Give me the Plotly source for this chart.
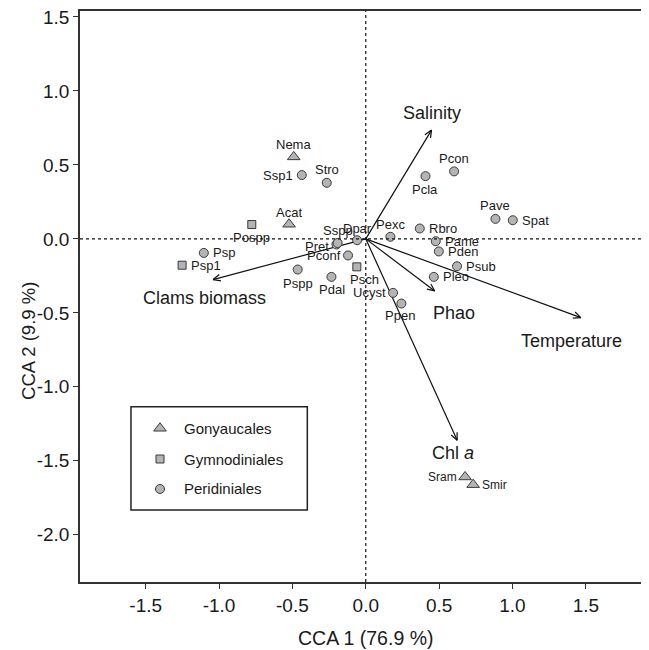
import math
import plotly.graph_objects as go

# ---------------- data ----------------
GONY_NAMES = ["Nema", "Acat", "Sram", "Smir"]
GONY_X = [-0.491, -0.523, 0.677, 0.732]
GONY_Y = [0.554, 0.099, -1.609, -1.661]

GYMN_NAMES = ["Pospp", "Psp1", "Psch"]
GYMN_X = [-0.777, -1.252, -0.061]
GYMN_Y = [0.097, -0.178, -0.189]

PERI_NAMES = ["Ssp1", "Stro", "Psp", "Pspp", "Pdal", "Pconf", "Pret", "Sspp", "Dpar",
              "Ucyst", "Ppen", "Pexc", "Rbro", "Pame", "Pden", "Psub", "Pleo",
              "Pcla", "Pcon", "Pave", "Spat"]
PERI_X = [-0.436, -0.266, -1.104, -0.464, -0.234, -0.121, -0.200, -0.192, -0.059,
          0.186, 0.243, 0.168, 0.368, 0.477, 0.498, 0.622, 0.464,
          0.407, 0.602, 0.884, 1.002]
PERI_Y = [0.431, 0.379, -0.095, -0.207, -0.257, -0.112, -0.038, -0.028, -0.009,
          -0.365, -0.437, 0.014, 0.070, -0.016, -0.085, -0.185, -0.257,
          0.424, 0.456, 0.135, 0.126]

ENV_NAMES = ["Salinity", "Temperature", "Phao", "Chl <i>a</i>", "Clams biomass"]
ENV_X = [0.448, 1.466, 0.470, 0.623, -1.041]
ENV_Y = [0.735, -0.532, -0.352, -1.361, -0.275]

X_TICKS = [-1.5, -1.0, -0.5, 0.0, 0.5, 1.0, 1.5]
X_TICK_LABELS = ["-1.5", "-1.0", "-0.5", "0.0", "0.5", "1.0", "1.5"]
Y_TICKS = [-2.0, -1.5, -1.0, -0.5, 0.0, 0.5, 1.0, 1.5]
Y_TICK_LABELS = ["-2.0", "-1.5", "-1.0", "-0.5", "0.0", "0.5", "1.0", "1.5"]

LEGEND_NAMES = ["Gonyaucales", "Gymnodiniales", "Peridiniales"]

# ---------------- styles ----------------
# page body has an 8px margin, so the figure is 8px smaller each way
W, H = 641, 642
ML, MR, MT, MB = 72, 2, 3, 68
XR = [-1.948, 1.917]
YR = [-2.319, 1.540]
FONT = "Liberation Sans, Arial, sans-serif"
TXT = "#1a1a1a"
FILL = "#b4b4b4"
EDGE = "#3a3a3a"

# label placement: (xanchor, xshift, yshift)
LBL = {
    "Nema": ("center", 0, 12), "Ssp1": ("right", -7, 0), "Stro": ("center", 0, 13),
    "Acat": ("center", 0, 12), "Pospp": ("center", 0, -13), "Psp": ("left", 7, 0),
    "Psp1": ("left", 7, 0), "Pspp": ("center", 0, -14), "Pdal": ("center", 1, -13),
    "Psch": ("center", 8, -13), "Pconf": ("right", -5, 0), "Pret": ("right", -5, -2),
    "Sspp": ("center", 0, 13), "Dpar": ("center", 0, 12), "Ucyst": ("right", -5, 0),
    "Ppen": ("center", -1, -12), "Pexc": ("center", 0, 12), "Rbro": ("left", 7, 0),
    "Pame": ("left", 7, 0), "Pden": ("left", 7, 0), "Psub": ("left", 7, 0),
    "Pleo": ("left", 7, 0), "Pcla": ("center", 0, -13), "Pcon": ("center", 0, 13),
    "Pave": ("center", 0, 13), "Spat": ("left", 7, 0), "Sram": ("right", -6, 0),
    "Smir": ("left", 7, 0),
}
ENV_LBL = [(0, 17), (-9, -23), (19, -22), (-4, -13), (-9, -18)]

fig = go.Figure()

# arrows (lines + open V heads computed in pixel space)
sx = (W - ML - MR) / (XR[1] - XR[0])
sy = (H - MT - MB) / (YR[1] - YR[0])
ax_, ay_ = [], []
L, ang = 8.0, math.radians(24)
for tx, ty in zip(ENV_X, ENV_Y):
    ax_ += [0, tx, None]
    ay_ += [0, ty, None]
    dx, dy = tx * sx, ty * sy
    n = math.hypot(dx, dy)
    ux, uy = dx / n, dy / n
    for s in (1, -1):
        c, si = math.cos(s * ang), math.sin(s * ang)
        rx, ry = ux * c - uy * si, ux * si + uy * c
        ax_ += [tx - L * rx / sx, tx, None]
        ay_ += [ty - L * ry / sy, ty, None]
fig.add_trace(go.Scatter(x=ax_, y=ay_, mode="lines", line=dict(color="#111", width=1.2),
                         hoverinfo="skip", showlegend=False))

def add_group(xs, ys, symbol, size):
    fig.add_trace(go.Scatter(x=xs, y=ys, mode="markers",
                             marker=dict(symbol=symbol, size=size, color=FILL,
                                         line=dict(color=EDGE, width=1)),
                             showlegend=False))

add_group(GONY_X, GONY_Y, "triangle-up", 11)
add_group(GYMN_X, GYMN_Y, "square", 8)
add_group(PERI_X, PERI_Y, "circle", 9)

annotations = []
for names, xs, ys in ((GONY_NAMES, GONY_X, GONY_Y), (GYMN_NAMES, GYMN_X, GYMN_Y),
                      (PERI_NAMES, PERI_X, PERI_Y)):
    for nm, x, y in zip(names, xs, ys):
        xa, xsft, ysft = LBL[nm]
        size = 12 if nm in ("Sram", "Smir") else 13
        annotations.append(dict(x=x, y=y, xref="x", yref="y", text=nm, showarrow=False,
                                xanchor=xa, yanchor="middle", xshift=xsft, yshift=ysft,
                                font=dict(family=FONT, size=size, color=TXT)))
for nm, x, y, (xsft, ysft) in zip(ENV_NAMES, ENV_X, ENV_Y, ENV_LBL):
    annotations.append(dict(x=x, y=y, xref="x", yref="y", text=nm, showarrow=False,
                            xanchor="center", yanchor="middle", xshift=xsft, yshift=ysft,
                            font=dict(family=FONT, size=18, color=TXT)))

# axis titles
annotations.append(dict(x=0, y=-0.098, xref="x", yref="paper", text="CCA 1 (76.9 %)",
                        showarrow=False, xanchor="center", yanchor="middle",
                        font=dict(family=FONT, size=19.5, color=TXT)))
annotations.append(dict(x=-0.09, y=-0.69, xref="paper", yref="y", text="CCA 2 (9.9 %)",
                        showarrow=False, xanchor="center", yanchor="middle", textangle=-90,
                        font=dict(family=FONT, size=18.5, color=TXT)))

# legend (manual)
LEG_MX, LEG_TX = 0.1411, 0.1794
LEG_YS = [0.2692, 0.2154, 0.1629]
for sym, size, yy in zip(["triangle-up", "square", "circle"], [11, 8, 9], LEG_YS):
    fig.add_trace(go.Scatter(x=[LEG_MX], y=[yy], xaxis="x2", yaxis="y2", mode="markers",
                             marker=dict(symbol=sym, size=size, color=FILL,
                                         line=dict(color=EDGE, width=1)),
                             showlegend=False, hoverinfo="skip"))
for nm, yy in zip(LEGEND_NAMES, LEG_YS):
    annotations.append(dict(x=LEG_TX, y=yy, xref="paper", yref="paper", text=nm,
                            showarrow=False, xanchor="left", yanchor="middle",
                            font=dict(family=FONT, size=15, color=TXT)))

shapes = [
    dict(type="line", x0=0, x1=0, y0=0, y1=1, xref="x", yref="paper",
         line=dict(color="#111", width=1.2, dash="dot")),
    dict(type="line", x0=0, x1=1, y0=0, y1=0, xref="paper", yref="y",
         line=dict(color="#111", width=1.2, dash="dot")),
    dict(type="rect", x0=0.0899, x1=0.4009, y0=0.1261, y1=0.3070, xref="paper", yref="paper",
         line=dict(color="#222", width=1.5), fillcolor="rgba(0,0,0,0)"),
]

axis_common = dict(showgrid=False, zeroline=False, showline=True, linecolor="#333",
                   linewidth=1.5, mirror=True, ticks="outside", ticklen=5, tickwidth=1.2,
                   tickcolor="#333", ticklabeloverflow="allow",
                   tickfont=dict(family=FONT, size=19, color=TXT))

fig.update_layout(
    width=W, height=H, margin=dict(l=ML, r=MR, t=MT, b=MB, autoexpand=False),
    plot_bgcolor="white", paper_bgcolor="white", showlegend=False,
    xaxis=dict(range=XR, tickvals=X_TICKS, ticktext=X_TICK_LABELS, **axis_common),
    yaxis=dict(range=YR, tickvals=Y_TICKS, ticktext=Y_TICK_LABELS, **axis_common),
    xaxis2=dict(range=[0, 1], overlaying="x", anchor="y2", visible=False),
    yaxis2=dict(range=[0, 1], overlaying="y", anchor="x2", visible=False),
    annotations=annotations, shapes=shapes,
)

fig.write_html("out.html")
